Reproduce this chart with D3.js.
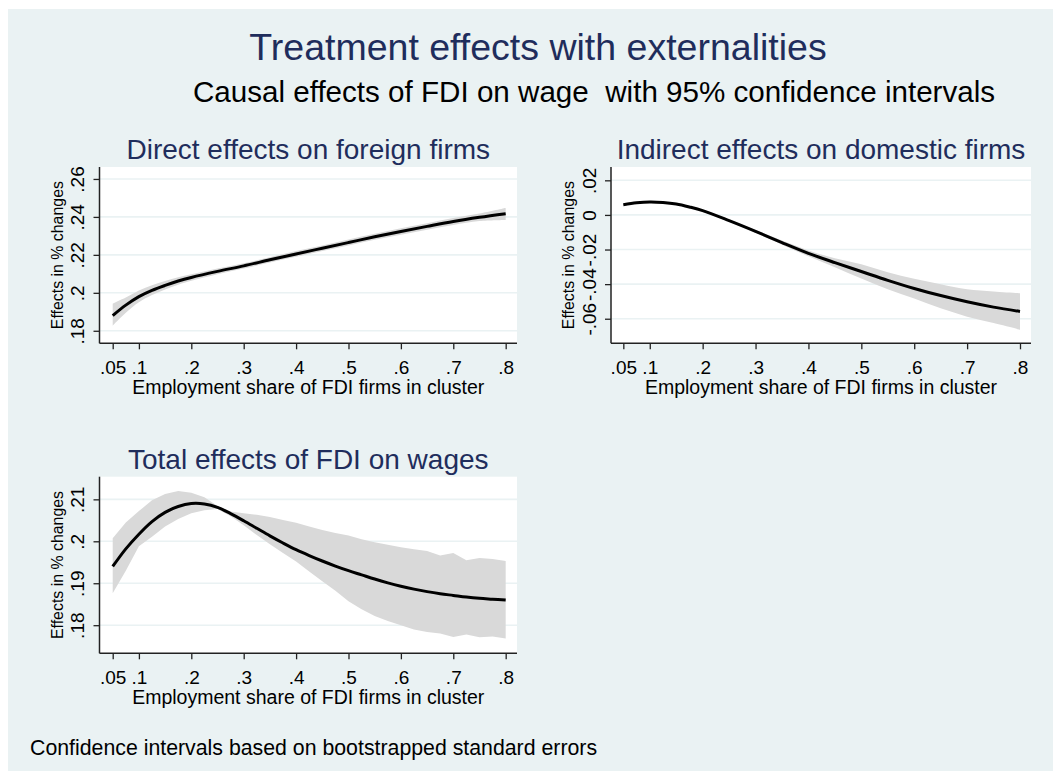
<!DOCTYPE html>
<html>
<head>
<meta charset="utf-8">
<script src="https://cdn.jsdelivr.net/npm/d3@7/dist/d3.min.js"></script>
<style>
  html, body { margin: 0; padding: 0; background: #ffffff; }
  svg text { font-family: "Liberation Sans", Arial, Helvetica, sans-serif; }
</style>
</head>
<body>
<svg id="chart" width="1061" height="771"></svg>
<script>
// ---------- DATA ----------
const mainTitle = "Treatment effects with externalities";
const subTitle = "Causal effects of FDI on wage  with 95% confidence intervals";
const footNote = "Confidence intervals based on bootstrapped standard errors";
const xAxisTitle = "Employment share of FDI firms in cluster";
const yAxisTitle = "Effects in % changes";

const xTicks = [0.05, 0.1, 0.2, 0.3, 0.4, 0.5, 0.6, 0.7, 0.8];
const xTickLabels = [".05", ".1", ".2", ".3", ".4", ".5", ".6", ".7", ".8"];

// Panel 1: Direct effects on foreign firms
const directTitle = "Direct effects on foreign firms";
const directX   = [0.05,0.075,0.1,0.125,0.15,0.175,0.2,0.25,0.3,0.35,0.4,0.45,0.5,0.55,0.6,0.65,0.7,0.75,0.8];
const directEst = [0.1880,0.1935,0.1980,0.2013,0.2039,0.2062,0.2081,0.2113,0.2142,0.2174,0.2205,0.2235,0.2265,0.2295,0.2323,0.2350,0.2376,0.2398,0.2417];
const directLo  = [0.1827,0.1895,0.1950,0.1988,0.2018,0.2043,0.2063,0.2098,0.2128,0.2160,0.2190,0.2220,0.2249,0.2279,0.2306,0.2333,0.2358,0.2378,0.2384];
const directHi  = [0.1943,0.1975,0.2012,0.2040,0.2062,0.2082,0.2098,0.2128,0.2156,0.2188,0.2220,0.2250,0.2281,0.2311,0.2340,0.2367,0.2394,0.2418,0.2447];
const directYTicks = [0.18, 0.20, 0.22, 0.24, 0.26];
const directYLabels = [".18", ".2", ".22", ".24", ".26"];

// Panel 2: Indirect effects on domestic firms
const indirectTitle = "Indirect effects on domestic firms";
const indirectX   = [0.05,0.075,0.1,0.125,0.15,0.175,0.2,0.25,0.3,0.35,0.4,0.45,0.5,0.55,0.6,0.65,0.7,0.75,0.8];
const indirectEst = [0.0059,0.0070,0.0075,0.0072,0.0063,0.0046,0.0025,-0.0033,-0.0095,-0.0160,-0.0222,-0.0276,-0.0327,-0.0378,-0.0425,-0.0466,-0.0502,-0.0533,-0.0558];
const indirectLo  = [0.0053,0.0064,0.0069,0.0066,0.0057,0.0040,0.0019,-0.0040,-0.0103,-0.0172,-0.0239,-0.0302,-0.0368,-0.0429,-0.0483,-0.0540,-0.0588,-0.0625,-0.0663];
const indirectHi  = [0.0065,0.0076,0.0081,0.0078,0.0069,0.0052,0.0031,-0.0026,-0.0087,-0.0148,-0.0205,-0.0250,-0.0285,-0.0331,-0.0369,-0.0400,-0.0430,-0.0442,-0.0452];
const indirectYTicks = [-0.06, -0.04, -0.02, 0, 0.02];
const indirectYLabels = ["-.06", "-.04", "-.02", "0", ".02"];

// Panel 3: Total effects of FDI on wages
const totalTitle = "Total effects of FDI on wages";
const totalX   = [0.05,0.075,0.1,0.125,0.15,0.175,0.2,0.225,0.25,0.275,0.3,0.325,0.35,0.375,0.4,0.425,0.45,0.475,0.5,0.525,0.55,0.575,0.6,0.625,0.65,0.675,0.7,0.725,0.75,0.775,0.8];
const totalEst = [0.1940,0.1982,0.2017,0.2047,0.2069,0.2083,0.2090,0.2089,0.2081,0.2066,0.2049,0.2031,0.2013,0.1996,0.1980,0.1966,0.1953,0.1941,0.1930,0.1920,0.1910,0.1901,0.1893,0.1886,0.1880,0.1875,0.1871,0.1867,0.1864,0.1862,0.1860];
const totalLo  = [0.1876,0.1930,0.1988,0.2011,0.2035,0.2053,0.2067,0.2074,0.2077,0.2060,0.2038,0.2015,0.1993,0.1972,0.1952,0.1928,0.1905,0.1882,0.1857,0.1838,0.1822,0.1810,0.1800,0.1790,0.1784,0.1780,0.1772,0.1778,0.1771,0.1773,0.1768];
const totalHi  = [0.2007,0.2045,0.2072,0.2098,0.2113,0.2120,0.2116,0.2105,0.2084,0.2071,0.2067,0.2063,0.2058,0.2051,0.2044,0.2035,0.2027,0.2020,0.2014,0.2005,0.1998,0.1992,0.1986,0.1981,0.1977,0.1966,0.1972,0.1955,0.1960,0.1958,0.1953];
const totalYTicks = [0.18, 0.19, 0.20, 0.21];
const totalYLabels = [".18", ".19", ".2", ".21"];

// ---------- STYLE ----------
const BG = "#eaf2f3";
const NAVY = "#1f2d5c";
const BAND = "#d9d9d9";
const GRID = "#eaf2f3";
const FONT_TICK = 19;

const svg = d3.select("#chart");

// outer background
svg.append("rect").attr("x", 8).attr("y", 9).attr("width", 1045).attr("height", 762).attr("fill", BG);

svg.append("text").attr("x", 538).attr("y", 60).attr("text-anchor", "middle")
  .attr("font-size", 37.5).attr("fill", NAVY).text(mainTitle);
svg.append("text").attr("x", 594).attr("y", 102).attr("text-anchor", "middle")
  .attr("font-size", 29.6).attr("fill", "#000")
  .style("white-space", "pre").text(subTitle);
svg.append("text").attr("x", 30).attr("y", 755).attr("font-size", 21.3)
  .attr("fill", "#000").text(footNote);

function drawPanel(cfg) {
  const g = svg.append("g");
  const x = d3.scaleLinear().domain(cfg.xDomain).range([cfg.left, cfg.right]);
  const y = d3.scaleLinear().domain(cfg.yDomain).range([cfg.bottom, cfg.top]);

  // plot region
  g.append("rect").attr("x", cfg.left).attr("y", cfg.top)
    .attr("width", cfg.right - cfg.left).attr("height", cfg.bottom - cfg.top).attr("fill", "#fff");

  // grid
  g.selectAll(".grid").data(cfg.yTicks).enter().append("line")
    .attr("x1", cfg.left).attr("x2", cfg.right)
    .attr("y1", d => y(d)).attr("y2", d => y(d))
    .attr("stroke", GRID).attr("stroke-width", 1.6);

  // band
  const idx = d3.range(cfg.xs.length);
  const area = d3.area()
    .x(i => x(cfg.xs[i])).y0(i => y(cfg.lo[i])).y1(i => y(cfg.hi[i]))
    .curve(cfg.bandCurve);
  g.append("path").datum(idx).attr("d", area).attr("fill", BAND);

  // estimate line
  const line = d3.line().x(i => x(cfg.xs[i])).y(i => y(cfg.est[i])).curve(d3.curveCatmullRom.alpha(0.5));
  g.append("path").datum(idx).attr("d", line).attr("fill", "none")
    .attr("stroke", "#000").attr("stroke-width", 3).attr("stroke-linejoin", "round");

  // x axis
  const xAxis = d3.axisBottom(x).tickValues(xTicks)
    .tickFormat((d, i) => xTickLabels[i]).tickSize(6).tickSizeOuter(0);
  const gx = g.append("g").attr("transform", `translate(0,${cfg.bottom})`).call(xAxis);
  gx.select(".domain").attr("stroke", "#222").attr("stroke-width", 1.5)
    .attr("d", `M${cfg.left},0H${cfg.right}`);
  gx.selectAll(".tick line").attr("stroke", "#222").attr("stroke-width", 1.3);
  gx.selectAll(".tick text").attr("font-size", FONT_TICK).attr("fill", "#000")
    .attr("dy", null).attr("y", 30.5);

  // y axis
  const yAxis = d3.axisLeft(y).tickValues(cfg.yTicks)
    .tickFormat((d, i) => cfg.yLabels[i]).tickSize(6).tickSizeOuter(0);
  const gy = g.append("g").attr("transform", `translate(${cfg.left},0)`).call(yAxis);
  gy.select(".domain").attr("stroke", "#222").attr("stroke-width", 1.5)
    .attr("d", `M0,${cfg.top}V${cfg.bottom}`);
  gy.selectAll(".tick line").attr("stroke", "#222").attr("stroke-width", 1.3);
  gy.selectAll(".tick text").attr("font-size", FONT_TICK).attr("fill", "#000")
    .attr("x", null).attr("dy", null)
    .attr("text-anchor", "middle")
    .attr("transform", "translate(-15.5,0) rotate(-90)");

  // titles
  g.append("text").attr("x", (cfg.left + cfg.right) / 2).attr("y", cfg.top - 8)
    .attr("text-anchor", "middle").attr("font-size", 28).attr("fill", NAVY).text(cfg.title);
  g.append("text").attr("x", (cfg.left + cfg.right) / 2).attr("y", cfg.bottom + 51)
    .attr("text-anchor", "middle").attr("font-size", 19.5).attr("fill", "#000").text(xAxisTitle);
  g.append("text")
    .attr("transform", `translate(${cfg.left - 37},${(cfg.top + cfg.bottom) / 2}) rotate(-90)`)
    .attr("text-anchor", "middle").attr("font-size", 15.9).attr("fill", "#000").text(yAxisTitle);
}

drawPanel({
  title: directTitle, left: 99.5, right: 517, top: 167, bottom: 343.3,
  xDomain: [0.0248, 0.8216], yDomain: [0.1734, 0.2663],
  xs: directX, est: directEst, lo: directLo, hi: directHi,
  yTicks: directYTicks, yLabels: directYLabels, bandCurve: d3.curveCatmullRom.alpha(0.5)
});
drawPanel({
  title: indirectTitle, left: 611, right: 1031, top: 167, bottom: 343.3,
  xDomain: [0.0267, 0.8208], yDomain: [-0.0742, 0.0277],
  xs: indirectX, est: indirectEst, lo: indirectLo, hi: indirectHi,
  yTicks: indirectYTicks, yLabels: indirectYLabels, bandCurve: d3.curveCatmullRom.alpha(0.5)
});
drawPanel({
  title: totalTitle, left: 99.5, right: 517, top: 476.7, bottom: 653.3,
  xDomain: [0.0248, 0.8216], yDomain: [0.1733, 0.2154],
  xs: totalX, est: totalEst, lo: totalLo, hi: totalHi,
  yTicks: totalYTicks, yLabels: totalYLabels, bandCurve: d3.curveLinear
});
</script>
</body>
</html>
